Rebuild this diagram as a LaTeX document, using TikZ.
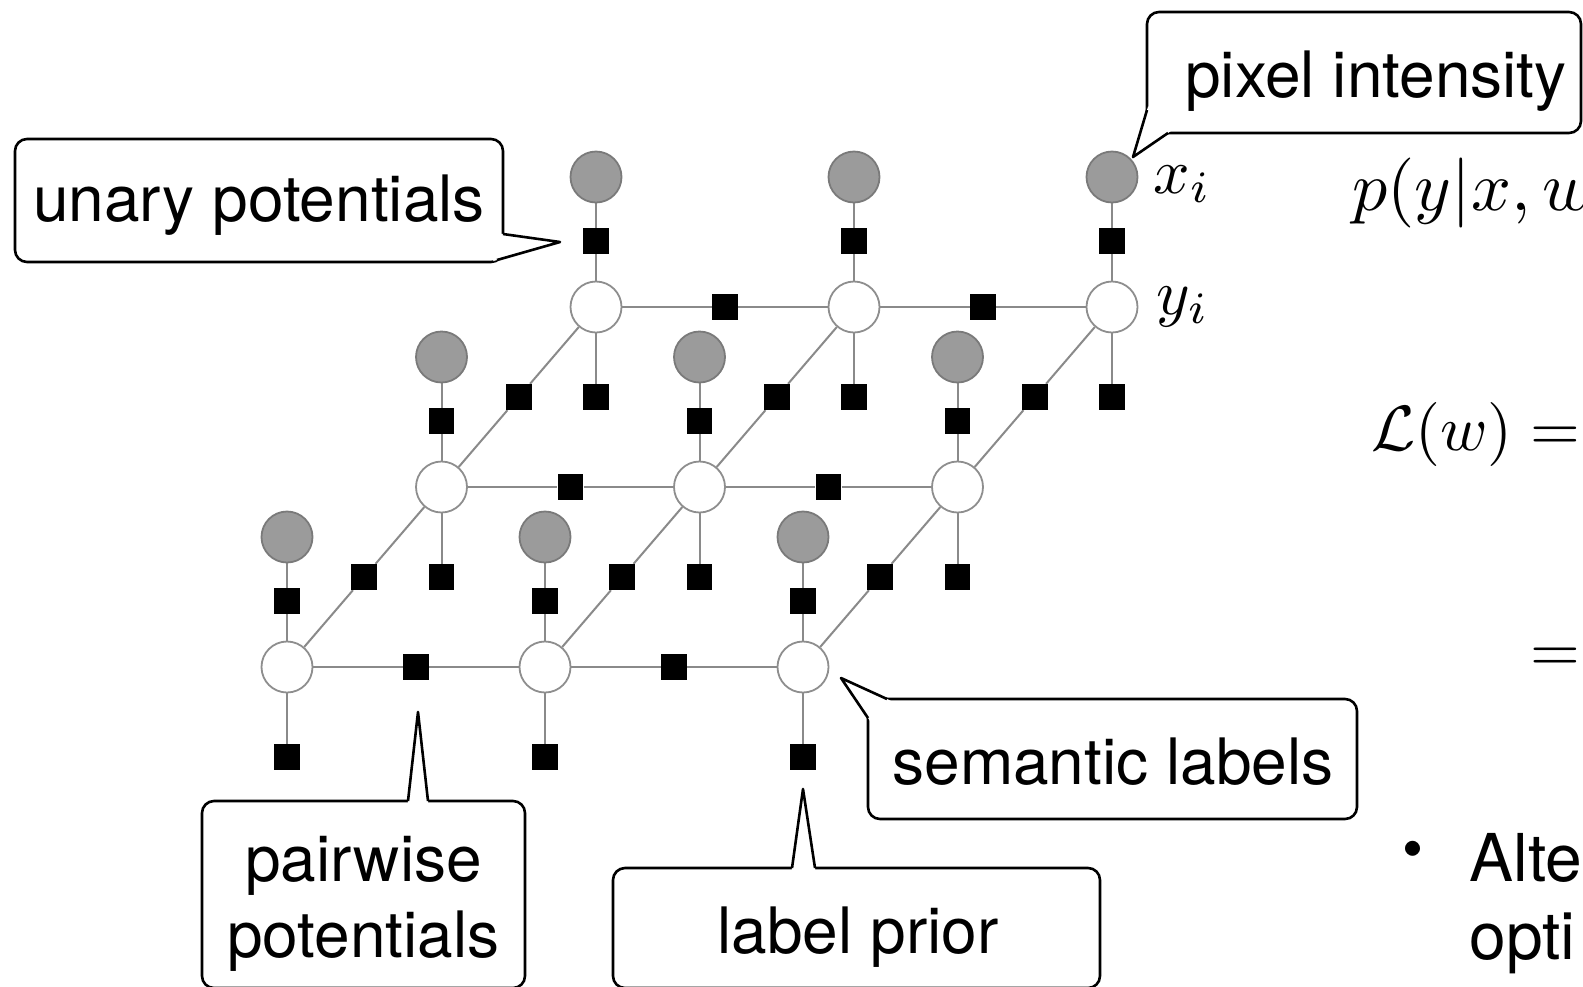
\documentclass[tikz,border=0pt]{standalone}
\usepackage[no-math]{fontspec}
\newfontfamily\helv{TeX Gyre Heros}
\usetikzlibrary{calc,backgrounds}

\definecolor{obsfill}{HTML}{9B9B9B}
\definecolor{obsline}{HTML}{7A7A7A}
\definecolor{latline}{HTML}{8E8E8E}
\definecolor{edgecol}{HTML}{8A8A8A}

\newcommand{\bigmath}[2]{\scalebox{#1}{$#2$}}

\tikzset{
  obs/.style={circle, fill=obsfill, draw=obsline, line width=0.9pt, minimum size=25.5pt, inner sep=0pt},
  lat/.style={circle, fill=white, draw=latline, line width=0.9pt, minimum size=25.5pt, inner sep=0pt},
  fac/.style={rectangle, fill=black, minimum size=12.8pt, inner sep=0pt},
  link/.style={draw=edgecol, line width=1pt},
  callbox/.style={draw=black, fill=white, line width=1.3pt, rounded corners=6pt, inner sep=0pt},
  ptr/.style={draw=black, line width=1.3pt, line join=round},
  lbl/.style={font=\helv\fontsize{32}{38}\selectfont, inner sep=0pt, anchor=base},
  mth/.style={inner sep=0pt, anchor=base west},
}

\begin{document}
\begin{tikzpicture}[x=0.5pt,y=-0.5pt]
\useasboundingbox (0,0) rectangle (1583,986);
\clip (0,0) rectangle (1583,986);

% --- factor graph: three rows of label nodes with observations and factors ---
\foreach \r in {0,1,2}{
  \foreach \c in {0,1,2}{
    \pgfmathsetmacro\X{287+258*\c+154.5*\r}
    \pgfmathsetmacro\Y{667-180*\r}
    \node[lat] (y\c\r) at (\X,\Y) {};
    \node[obs] (x\c\r) at (\X,\Y-130) {};
    \node[fac] (u\c\r) at (\X,\Y-66) {};
    \node[fac] (p\c\r) at (\X,\Y+90) {};
  }
}
\foreach \r in {0,1,2}
  \foreach \c/\n in {0/1,1/2}
    \node[fac] (h\c\r) at ($(y\c\r)!0.5!(y\n\r)$) {};
\foreach \r/\s in {0/1,1/2}
  \foreach \c in {0,1,2}
    \node[fac] (d\c\r) at ($(y\c\r)!0.5!(y\c\s)$) {};

\begin{scope}[on background layer]
  \fill[white] (0,0) rectangle (1583,986);
  \foreach \r in {0,1,2}
    \foreach \c in {0,1,2}
      \draw[link] (x\c\r) -- (u\c\r) -- (y\c\r) -- (p\c\r);
  \foreach \r in {0,1,2}
    \foreach \c/\n in {0/1,1/2}
      \draw[link] (y\c\r) -- (h\c\r) -- (y\n\r);
  \foreach \r/\s in {0/1,1/2}
    \foreach \c in {0,1,2}
      \draw[link] (y\c\r) -- (d\c\r) -- (y\c\s);
\end{scope}

% --- variable names ---
\node[mth] (xi) at (1153,193) {\bigmath{3.2}{x_i}};
\node[mth] (yi) at (1156,314) {\bigmath{3.2}{y_i}};

% --- equations on the right ---
\node[mth] (pyx) at (1352,210) {\bigmath{3.5}{p(y|x,w)}};
\node[mth] (lw) at (1371,450) {\bigmath{3.2}{\mathcal{L}(w) =}};
\node[mth] (eq2) at (1530,671) {\bigmath{3.2}{=}};

% --- bullet line ---
\node[font=\helv\fontsize{30}{36}\selectfont, inner sep=0pt] (bul) at (1412.5,855.5) {\textbullet};
\node[lbl, anchor=base west, font=\helv\fontsize{33}{40}\selectfont] (alt) at (1469,881) {Alte};
\node[lbl, anchor=base west, font=\helv\fontsize{33}{40}\selectfont] (opt) at (1469,959) {opti};

% --- callout: unary potentials ---
\node[callbox, minimum width=244pt, minimum height=61.5pt] (ubox) at (259,200.5) {};
\coordinate (ub1) at (503,234);
\coordinate (utip) at (560,242);
\coordinate (ub2) at (497,260);
\fill[white] ($(ub1)!-2pt!(utip)$) -- (utip) -- ($(ub2)!-2pt!(utip)$) -- cycle;
\draw[ptr] (ub1) -- (utip) -- (ub2);
\node[lbl] (utxt) at (259,221) {unary potentials};

% --- callout: pixel intensity ---
\node[callbox, minimum width=217pt, minimum height=60.5pt] (pbox) at (1364,72.5) {};
\coordinate (pb1) at (1147,110);
\coordinate (ptip) at (1133,157);
\coordinate (pb2) at (1168,133);
\fill[white] ($(pb1)!-2pt!(ptip)$) -- (ptip) -- ($(pb2)!-2pt!(ptip)$) -- cycle;
\draw[ptr] (pb1) -- (ptip) -- (pb2);
\node[lbl] (ptxt) at (1376,97) {pixel intensity};

% --- callout: semantic labels ---
\node[callbox, minimum width=244.5pt, minimum height=60pt] (sbox) at (1112.5,759) {};
\coordinate (sb1) at (887,699);
\coordinate (stip) at (841,678);
\coordinate (sb2) at (868,718);
\fill[white] ($(sb1)!-2pt!(stip)$) -- (stip) -- ($(sb2)!-2pt!(stip)$) -- cycle;
\draw[ptr] (sb1) -- (stip) -- (sb2);
\node[lbl] (stxt) at (1113,784) {semantic labels};

% --- callout: pairwise potentials ---
\node[callbox, minimum width=161.5pt, minimum height=93.5pt] (wbox) at (363.5,894.5) {};
\coordinate (wb1) at (408,801);
\coordinate (wtip) at (418,712);
\coordinate (wb2) at (428,801);
\fill[white] ($(wb1)!-2pt!(wtip)$) -- (wtip) -- ($(wb2)!-2pt!(wtip)$) -- cycle;
\draw[ptr] (wb1) -- (wtip) -- (wb2);
\node[lbl] (wtxt1) at (363.5,881) {pairwise};
\node[lbl] (wtxt2) at (363.5,957) {potentials};

% --- callout: label prior ---
\node[callbox, minimum width=243.5pt, minimum height=60pt] (lbox) at (856.5,928) {};
\coordinate (lb1) at (792,868);
\coordinate (ltip) at (803,789);
\coordinate (lb2) at (815,868);
\fill[white] ($(lb1)!-2pt!(ltip)$) -- (ltip) -- ($(lb2)!-2pt!(ltip)$) -- cycle;
\draw[ptr] (lb1) -- (ltip) -- (lb2);
\node[lbl] (ltxt) at (858,953) {label prior};
\end{tikzpicture}
\end{document}
